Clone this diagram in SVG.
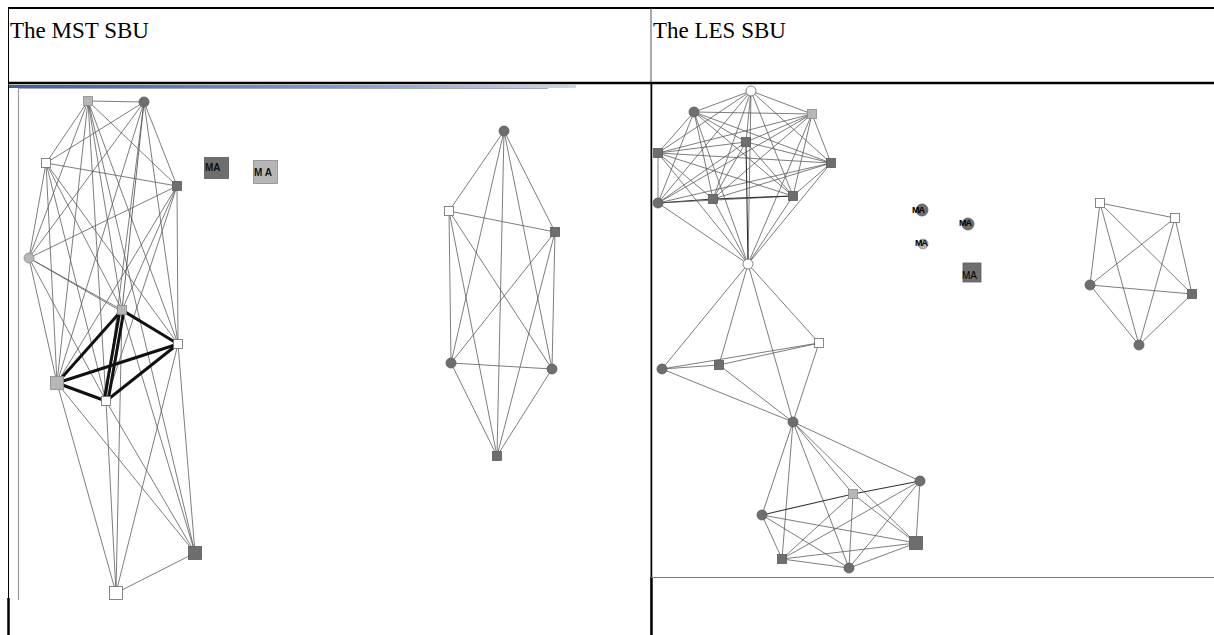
<svg xmlns="http://www.w3.org/2000/svg" width="1214" height="635" viewBox="0 0 1214 635">
<defs>
<linearGradient id="blu" x1="0" y1="0" x2="1" y2="0">
<stop offset="0" stop-color="#3a5f9a"/>
<stop offset="0.6" stop-color="#7f9fd0"/>
<stop offset="1" stop-color="#c9d7ee"/>
</linearGradient>
<style>
.e{stroke:#5c5c5c;stroke-width:0.8;fill:none}
.ed{stroke:#333;stroke-width:1.1;fill:none}
.t{stroke:#111;stroke-width:3;fill:none}
.dk{fill:#6e6e6e;stroke:#5a5a5a;stroke-width:0.8}
.lt{fill:#b6b6b6;stroke:#8a8a8a;stroke-width:0.8}
.wh{fill:#fff;stroke:#6a6a6a;stroke-width:0.8}
.hd{font-family:"Liberation Serif","Times New Roman",serif;font-size:23px;fill:#000}
.ma{font-family:"Liberation Sans",Arial,sans-serif;font-size:10px;font-weight:bold;fill:#111}
.ma2{font-family:"Liberation Sans",Arial,sans-serif;font-size:9px;font-weight:bold;fill:#000;letter-spacing:-1px}
</style>
</defs>
<rect width="1214" height="635" fill="#fff"/>

<g id="table">
<line x1="8" y1="8" x2="1214" y2="8" stroke="#000" stroke-width="2"/>
<line x1="8.5" y1="8" x2="8.5" y2="635" stroke="#000" stroke-width="1"/>
<line x1="8.5" y1="598" x2="8.5" y2="635" stroke="#000" stroke-width="2.5"/>
<line x1="651" y1="8" x2="651" y2="635" stroke="#555" stroke-width="1"/>
<line x1="651.5" y1="577" x2="651.5" y2="635" stroke="#000" stroke-width="2.5"/>
<line x1="651.5" y1="83" x2="651.5" y2="577" stroke="#000" stroke-width="1.5"/>
<line x1="8" y1="83" x2="1214" y2="83" stroke="#000" stroke-width="2.5"/>
<rect x="9" y="85" width="567" height="3" fill="url(#blu)"/>
<line x1="18.5" y1="88" x2="18.5" y2="600" stroke="#999" stroke-width="1.2"/>
<line x1="18" y1="88.5" x2="548" y2="88.5" stroke="#aaa" stroke-width="1"/>
<line x1="651" y1="577.5" x2="1214" y2="577.5" stroke="#777" stroke-width="1.2"/>
<text class="hd" x="10" y="38">The MST SBU</text>
<text class="hd" x="653" y="38">The LES SBU</text>
</g>

<g id="connectors">
<!-- MST left graph -->
<line class="e" x1="88" y1="101" x2="144" y2="102"/>
<line class="e" x1="88" y1="101" x2="46" y2="163"/>
<line class="e" x1="88" y1="101" x2="177" y2="186"/>
<line class="e" x1="88" y1="101" x2="29" y2="258"/>
<line class="e" x1="88" y1="101" x2="122" y2="310"/>
<line class="e" x1="88" y1="101" x2="178" y2="344"/>
<line class="e" x1="88" y1="101" x2="57" y2="383"/>
<line class="e" x1="88" y1="101" x2="106" y2="401"/>
<line class="e" x1="144" y1="102" x2="46" y2="163"/>
<line class="e" x1="144" y1="102" x2="177" y2="186"/>
<line class="e" x1="144" y1="102" x2="29" y2="258"/>
<line class="e" x1="144" y1="102" x2="122" y2="310" style="stroke:#444"/>
<line class="e" x1="144" y1="102" x2="178" y2="344"/>
<line class="e" x1="144" y1="102" x2="57" y2="383"/>
<line class="e" x1="144" y1="102" x2="106" y2="401"/>
<line class="e" x1="46" y1="163" x2="177" y2="186"/>
<line class="e" x1="46" y1="163" x2="29" y2="258"/>
<line class="e" x1="46" y1="163" x2="122" y2="310"/>
<line class="e" x1="46" y1="163" x2="178" y2="344"/>
<line class="e" x1="46" y1="163" x2="57" y2="383"/>
<line class="e" x1="46" y1="163" x2="106" y2="401"/>
<line class="e" x1="177" y1="186" x2="29" y2="258"/>
<line class="e" x1="177" y1="186" x2="122" y2="310"/>
<line class="e" x1="177" y1="186" x2="178" y2="344"/>
<line class="e" x1="177" y1="186" x2="57" y2="383"/>
<line class="e" x1="177" y1="186" x2="106" y2="401"/>
<line class="e" x1="29" y1="258" x2="122" y2="310"/>
<line class="e" x1="29" y1="258" x2="178" y2="344"/>
<line class="e" x1="29" y1="258" x2="57" y2="383"/>
<line class="e" x1="29" y1="258" x2="106" y2="401"/>
<line class="e" x1="195" y1="553" x2="57" y2="383"/>
<line class="e" x1="195" y1="553" x2="106" y2="401"/>
<line class="e" x1="195" y1="553" x2="122" y2="310"/>
<line class="e" x1="195" y1="553" x2="178" y2="344"/>
<line class="e" x1="195" y1="553" x2="88" y2="101"/>
<line class="e" x1="116" y1="593" x2="57" y2="383"/>
<line class="e" x1="116" y1="593" x2="106" y2="401"/>
<line class="e" x1="116" y1="593" x2="122" y2="310"/>
<line class="e" x1="116" y1="593" x2="178" y2="344"/>
<line class="e" x1="116" y1="593" x2="195" y2="553"/>
<line class="t" x1="122" y1="310" x2="178" y2="344"/>
<line class="t" x1="122" y1="310" x2="57" y2="383"/>
<line class="t" x1="120" y1="310" x2="104" y2="401"/>
<line class="t" x1="124" y1="310" x2="108" y2="401"/>
<line class="t" x1="178" y1="344" x2="57" y2="383"/>
<line class="t" x1="178" y1="344" x2="106" y2="401"/>
<line class="t" x1="57" y1="383" x2="106" y2="401"/>
<!-- MST right graph -->
<line class="e" x1="504" y1="131" x2="449" y2="211"/>
<line class="e" x1="504" y1="131" x2="555" y2="232"/>
<line class="e" x1="504" y1="131" x2="451" y2="363"/>
<line class="e" x1="504" y1="131" x2="552" y2="369"/>
<line class="e" x1="504" y1="131" x2="497" y2="456"/>
<line class="e" x1="449" y1="211" x2="555" y2="232"/>
<line class="e" x1="449" y1="211" x2="451" y2="363"/>
<line class="e" x1="449" y1="211" x2="552" y2="369"/>
<line class="e" x1="449" y1="211" x2="497" y2="456"/>
<line class="e" x1="555" y1="232" x2="451" y2="363"/>
<line class="e" x1="555" y1="232" x2="552" y2="369"/>
<line class="e" x1="555" y1="232" x2="497" y2="456"/>
<line class="e" x1="451" y1="363" x2="552" y2="369"/>
<line class="e" x1="451" y1="363" x2="497" y2="456"/>
<line class="e" x1="552" y1="369" x2="497" y2="456"/>
<!-- LES top cluster -->
<line class="e" x1="751" y1="91" x2="694" y2="112"/>
<line class="e" x1="751" y1="91" x2="812" y2="114"/>
<line class="e" x1="751" y1="91" x2="746" y2="142"/>
<line class="e" x1="751" y1="91" x2="658" y2="153"/>
<line class="e" x1="751" y1="91" x2="831" y2="163"/>
<line class="e" x1="751" y1="91" x2="658" y2="203"/>
<line class="e" x1="751" y1="91" x2="713" y2="199"/>
<line class="e" x1="751" y1="91" x2="793" y2="196"/>
<line class="e" x1="694" y1="112" x2="812" y2="114"/>
<line class="e" x1="694" y1="112" x2="746" y2="142"/>
<line class="e" x1="694" y1="112" x2="658" y2="153"/>
<line class="e" x1="694" y1="112" x2="831" y2="163"/>
<line class="e" x1="694" y1="112" x2="658" y2="203"/>
<line class="e" x1="694" y1="112" x2="713" y2="199"/>
<line class="e" x1="694" y1="112" x2="793" y2="196"/>
<line class="e" x1="812" y1="114" x2="746" y2="142"/>
<line class="e" x1="812" y1="114" x2="658" y2="153"/>
<line class="e" x1="812" y1="114" x2="831" y2="163"/>
<line class="e" x1="812" y1="114" x2="658" y2="203"/>
<line class="e" x1="812" y1="114" x2="713" y2="199"/>
<line class="e" x1="812" y1="114" x2="793" y2="196"/>
<line class="e" x1="746" y1="142" x2="658" y2="153"/>
<line class="e" x1="746" y1="142" x2="831" y2="163"/>
<line class="e" x1="746" y1="142" x2="658" y2="203"/>
<line class="e" x1="746" y1="142" x2="713" y2="199"/>
<line class="e" x1="746" y1="142" x2="793" y2="196"/>
<line class="e" x1="658" y1="153" x2="831" y2="163"/>
<line class="e" x1="658" y1="153" x2="658" y2="203"/>
<line class="e" x1="658" y1="153" x2="713" y2="199"/>
<line class="e" x1="658" y1="153" x2="793" y2="196"/>
<line class="e" x1="831" y1="163" x2="658" y2="203"/>
<line class="e" x1="831" y1="163" x2="713" y2="199"/>
<line class="e" x1="831" y1="163" x2="793" y2="196"/>
<line class="ed" x1="658" y1="203" x2="713" y2="199"/>
<line class="e" x1="658" y1="203" x2="793" y2="196"/>
<line class="ed" x1="713" y1="199" x2="793" y2="196"/>
<line class="e" x1="748" y1="264" x2="751" y2="91"/>
<line class="e" x1="748" y1="264" x2="694" y2="112"/>
<line class="e" x1="748" y1="264" x2="812" y2="114"/>
<line class="ed" x1="748" y1="264" x2="746" y2="142"/>
<line class="e" x1="748" y1="264" x2="658" y2="153"/>
<line class="e" x1="748" y1="264" x2="831" y2="163"/>
<line class="e" x1="748" y1="264" x2="658" y2="203"/>
<line class="e" x1="748" y1="264" x2="713" y2="199"/>
<line class="e" x1="748" y1="264" x2="793" y2="196"/>
<!-- LES middle -->
<line class="e" x1="748" y1="264" x2="819" y2="343"/>
<line class="e" x1="748" y1="264" x2="662" y2="369"/>
<line class="e" x1="748" y1="264" x2="719" y2="365"/>
<line class="e" x1="748" y1="264" x2="793" y2="422"/>
<line class="e" x1="662" y1="369" x2="719" y2="365"/>
<line class="e" x1="662" y1="369" x2="819" y2="343"/>
<line class="e" x1="719" y1="365" x2="819" y2="343"/>
<line class="e" x1="662" y1="369" x2="793" y2="422"/>
<line class="e" x1="719" y1="365" x2="793" y2="422"/>
<line class="e" x1="819" y1="343" x2="793" y2="422"/>
<!-- LES bottom cluster -->
<line class="e" x1="793" y1="422" x2="920" y2="481"/>
<line class="e" x1="793" y1="422" x2="853" y2="494"/>
<line class="e" x1="793" y1="422" x2="762" y2="515"/>
<line class="e" x1="793" y1="422" x2="916" y2="543"/>
<line class="e" x1="793" y1="422" x2="782" y2="559"/>
<line class="e" x1="793" y1="422" x2="849" y2="568"/>
<line class="ed" x1="920" y1="481" x2="853" y2="494"/>
<line class="ed" x1="853" y1="494" x2="762" y2="515"/>
<line class="e" x1="920" y1="481" x2="916" y2="543"/>
<line class="e" x1="920" y1="481" x2="782" y2="559"/>
<line class="e" x1="920" y1="481" x2="849" y2="568"/>
<line class="e" x1="853" y1="494" x2="916" y2="543"/>
<line class="e" x1="853" y1="494" x2="782" y2="559"/>
<line class="e" x1="853" y1="494" x2="849" y2="568"/>
<line class="e" x1="762" y1="515" x2="916" y2="543"/>
<line class="e" x1="762" y1="515" x2="782" y2="559"/>
<line class="e" x1="762" y1="515" x2="849" y2="568"/>
<line class="e" x1="916" y1="543" x2="782" y2="559"/>
<line class="e" x1="916" y1="543" x2="849" y2="568"/>
<line class="e" x1="782" y1="559" x2="849" y2="568"/>
<!-- LES right pentagon -->
<line class="e" x1="1100" y1="203" x2="1175" y2="218"/>
<line class="e" x1="1100" y1="203" x2="1090" y2="285"/>
<line class="e" x1="1100" y1="203" x2="1192" y2="294"/>
<line class="e" x1="1100" y1="203" x2="1139" y2="345"/>
<line class="e" x1="1175" y1="218" x2="1090" y2="285"/>
<line class="e" x1="1175" y1="218" x2="1192" y2="294"/>
<line class="e" x1="1175" y1="218" x2="1139" y2="345"/>
<line class="e" x1="1090" y1="285" x2="1192" y2="294"/>
<line class="e" x1="1090" y1="285" x2="1139" y2="345"/>
<line class="e" x1="1192" y1="294" x2="1139" y2="345"/>
</g>

<!-- MST left nodes -->
<g id="mA"><rect class="lt" x="83.5" y="96.5" width="9" height="9"/></g>
<g id="mB"><circle class="dk" cx="144" cy="102" r="5"/></g>
<g id="mC"><rect class="wh" x="41.5" y="158.5" width="9" height="9"/></g>
<g id="mD"><rect class="dk" x="172.5" y="181.5" width="9" height="9"/></g>
<g id="mE"><circle class="lt" cx="29" cy="258" r="5"/></g>
<g id="mF"><rect class="lt" x="117.5" y="305.5" width="9" height="9"/></g>
<g id="mG"><rect class="wh" x="173.5" y="339.5" width="9" height="9"/></g>
<g id="mH"><rect class="lt" x="50.5" y="376.5" width="13" height="13"/></g>
<g id="mI"><rect class="wh" x="101.5" y="396.5" width="9" height="9"/></g>
<g id="mJ"><rect class="dk" x="188.5" y="546.5" width="13" height="13"/></g>
<g id="mK"><rect class="wh" x="109.5" y="586.5" width="13" height="13"/></g>
<g id="mMA1"><rect class="dk" x="204.5" y="157.5" width="24" height="21"/><text class="ma" x="205" y="171">MA</text></g>
<g id="mMA2"><rect class="lt" x="253.5" y="160.5" width="24" height="23"/><text class="ma" x="254" y="176">M A</text></g>

<!-- MST right nodes -->
<g id="rP"><circle class="dk" cx="504" cy="131" r="5"/></g>
<g id="rQ"><rect class="wh" x="444.5" y="206.5" width="9" height="9"/></g>
<g id="rR"><rect class="dk" x="550.5" y="227.5" width="9" height="9"/></g>
<g id="rS"><circle class="dk" cx="451" cy="363" r="5"/></g>
<g id="rT"><circle class="dk" cx="552" cy="369" r="5"/></g>
<g id="rU"><rect class="dk" x="492.5" y="451.5" width="9" height="9"/></g>

<!-- LES top cluster nodes -->
<g id="L1"><circle class="wh" cx="751" cy="91" r="5"/></g>
<g id="L2"><circle class="dk" cx="694" cy="112" r="5"/></g>
<g id="L3"><rect class="lt" x="807.5" y="109.5" width="9" height="9"/></g>
<g id="L4"><rect class="dk" x="741.5" y="137.5" width="9" height="9"/></g>
<g id="L5"><rect class="dk" x="653.5" y="148.5" width="9" height="9"/></g>
<g id="L6"><rect class="dk" x="826.5" y="158.5" width="9" height="9"/></g>
<g id="L7"><circle class="dk" cx="658" cy="203" r="5"/></g>
<g id="L8"><rect class="dk" x="708.5" y="194.5" width="9" height="9"/></g>
<g id="L9"><rect class="dk" x="788.5" y="191.5" width="9" height="9"/></g>
<g id="L10"><circle class="wh" cx="748" cy="264" r="5"/></g>
<!-- LES middle nodes -->
<g id="M1"><rect class="wh" x="814.5" y="338.5" width="9" height="9"/></g>
<g id="M2"><circle class="dk" cx="662" cy="369" r="5"/></g>
<g id="M3"><rect class="dk" x="714.5" y="360.5" width="9" height="9"/></g>
<g id="M4"><circle class="dk" cx="793" cy="422" r="5"/></g>
<!-- LES bottom nodes -->
<g id="N1"><circle class="dk" cx="920" cy="481" r="5"/></g>
<g id="N2"><rect class="lt" x="848.5" y="489.5" width="9" height="9"/></g>
<g id="N3"><circle class="dk" cx="762" cy="515" r="5"/></g>
<g id="N4"><rect class="dk" x="909.5" y="536.5" width="13" height="13"/></g>
<g id="N5"><rect class="dk" x="777.5" y="554.5" width="9" height="9"/></g>
<g id="N6"><circle class="dk" cx="849" cy="568" r="5"/></g>
<!-- LES MA nodes -->
<g id="LMA1"><circle class="dk" cx="922" cy="210" r="6"/><text class="ma2" x="912" y="213">MA</text></g>
<g id="LMA2"><circle class="dk" cx="968" cy="224" r="6"/><text class="ma2" x="959" y="226">MA</text></g>
<g id="LMA3"><circle class="lt" cx="923" cy="244" r="5"/><text class="ma2" x="915" y="246">MA</text></g>
<g id="LMA4"><rect class="dk" x="963" y="263" width="18" height="19" stroke="none"/><text class="ma2" x="962" y="279" style="font-size:10px;font-weight:normal;letter-spacing:0">MA</text></g>
<!-- LES pentagon nodes -->
<g id="Q1"><rect class="wh" x="1095.5" y="198.5" width="9" height="9"/></g>
<g id="Q2"><rect class="wh" x="1170.5" y="213.5" width="9" height="9"/></g>
<g id="Q3"><circle class="dk" cx="1090" cy="285" r="5"/></g>
<g id="Q4"><rect class="dk" x="1187.5" y="289.5" width="9" height="9"/></g>
<g id="Q5"><circle class="dk" cx="1139" cy="345" r="5"/></g>
</svg>
